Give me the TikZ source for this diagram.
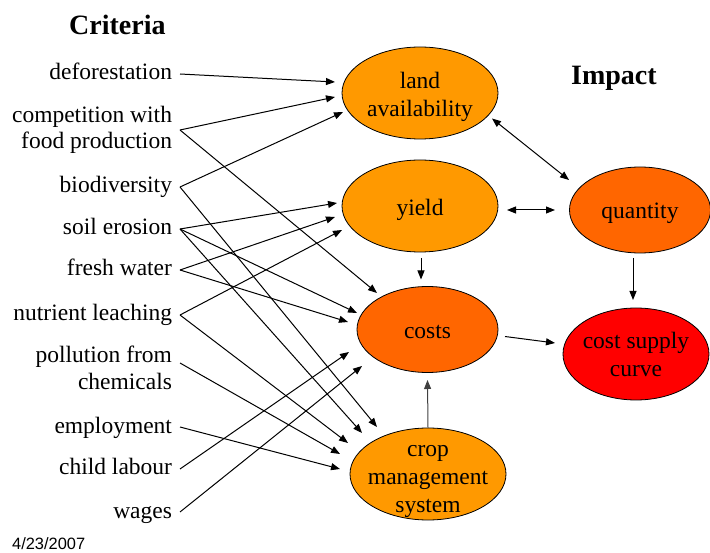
\documentclass[tikz,border=0pt]{standalone}
\usepackage{fontspec}
\setmainfont{Liberation Serif}
\newfontfamily\datefont{Liberation Sans}
\usetikzlibrary{shapes.geometric,arrows.meta}
\definecolor{orA}{HTML}{FF9900}
\definecolor{orB}{HTML}{FF6600}
\definecolor{redC}{HTML}{FF0000}
\begin{document}
\begin{tikzpicture}[x=1pt,y=-1pt,
  crit/.style={anchor=east,align=right,inner sep=0pt,outer xsep=8pt,font=\fontsize{23.5}{26.7}\selectfont},
  one/.style={text height=16pt,text depth=4pt},
  imp/.style={ellipse,draw=black,line width=0.8pt,inner sep=0pt},
  itext/.style={align=center,inner sep=0pt,font=\fontsize{23.5}{28}\selectfont},
  arr/.style={line width=1pt,-{Triangle[length=9pt,width=7pt]}},
  darr/.style={line width=1pt,{Triangle[length=9pt,width=7pt]}-{Triangle[length=9pt,width=7pt]}},
  head/.style={font=\fontsize{28}{30}\selectfont\bfseries,inner sep=0pt,anchor=base west}
]
\useasboundingbox (0,0) rectangle (710,553);

% headers
\node[head] (crith) at (69,35) {Criteria};
\node[head] (imph) at (571,85) {Impact};
\node[anchor=base west,inner sep=0pt,font=\datefont\fontsize{16.4}{18}\selectfont] (date) at (12,549) {4/23/2007};

% impact ellipses
\node[imp,fill=orA,minimum width=156pt,minimum height=92pt,
  label={[itext,yshift=-3.5pt]center:land\\availability}] (land) at (420,93) {};
\node[imp,fill=orA,minimum width=156pt,minimum height=92pt,
  label={[itext,yshift=-4pt]center:yield}] (yield) at (420,206) {};
\node[imp,fill=orB,minimum width=141pt,minimum height=86pt,
  label={[itext,yshift=-3.5pt]center:quantity}] (qty) at (640,210) {};
\node[imp,fill=orB,minimum width=141pt,minimum height=86pt,
  label={[itext,yshift=-3pt]center:costs}] (costs) at (427.5,329.5) {};
\node[imp,fill=redC,minimum width=146pt,minimum height=92pt,
  label={[itext,yshift=-0.5pt]center:cost supply\\curve}] (csc) at (636,354) {};
\node[imp,fill=orA,minimum width=156pt,minimum height=92pt,
  label={[itext,yshift=-7pt]center:crop\\management\\system}] (crop) at (428,474) {};

% criteria labels
\node[crit,one] (defo) at (180,74) {deforestation};
\node[crit] (comp) at (180,130) {competition with\\food production};
\node[crit,one] (bio) at (180,187) {biodiversity};
\node[crit,one] (soil) at (180,229) {soil erosion};
\node[crit,one] (fresh) at (180,270) {fresh water};
\node[crit,one] (nutr) at (180,315) {nutrient leaching};
\node[crit] (poll) at (180,368) {pollution from\\chemicals};
\node[crit,one] (empl) at (180,427) {employment};
\node[crit,one] (child) at (180,469) {child labour};
\node[crit,one] (wage) at (180,512) {wages};

% criteria -> land availability
\draw[arr] (defo.east) -- ([shift={(-85,-11)}]land.center);
\draw[arr] (comp.east) -- ([shift={(-85,4)}]land.center);
\draw[arr] (bio.east) -- ([shift={(-77,19)}]land.center);
% criteria -> yield
\draw[arr] (soil.east) -- ([shift={(-83,-3)}]yield.center);
\draw[arr] (fresh.east) -- ([shift={(-85,11)}]yield.center);
\draw[arr] (nutr.east) -- ([shift={(-78,24)}]yield.center);
% criteria -> costs
\draw[arr] (comp.east) -- ([shift={(-50.5,-36.5)}]costs.center);
\draw[arr] (soil.east) -- ([shift={(-70.5,-16.5)}]costs.center);
\draw[arr] (fresh.east) -- ([shift={(-79.5,-7.5)}]costs.center);
\draw[arr] (child.east) -- ([shift={(-78.5,22.5)}]costs.center);
\draw[arr] (wage.east) -- ([shift={(-65.5,36.5)}]costs.center);
% criteria -> crop management system
\draw[arr] (bio.east) -- ([shift={(-51,-47)}]crop.center);
\draw[arr] (soil.east) -- ([shift={(-66,-41)}]crop.center);
\draw[arr] (nutr.east) -- ([shift={(-80,-31)}]crop.center);
\draw[arr] ([yshift=5pt]poll.east) -- ([shift={(-88,-20)}]crop.center);
\draw[arr] (empl.east) -- ([shift={(-88,-5)}]crop.center);

% impact links
\draw[darr] ([shift={(72,25.5)}]land.center) -- ([shift={(-71,-30)}]qty.center);
\draw[darr] ([shift={(87,4)}]yield.center) -- ([shift={(-85,0)}]qty.center);
\draw[arr] ([shift={(1,52)}]yield.center) -- ([shift={(-6.5,-50)}]costs.center);
\draw[arr] ([shift={(-7,48)}]qty.center) -- ([shift={(-3,-54)}]csc.center);
\draw[arr] ([shift={(77.5,7)}]costs.center) -- ([shift={(-81,-11)}]csc.center);
\draw[arr,draw=black!75] (crop.north) -- ([shift={(0,50.5)}]costs.center);
\end{tikzpicture}
\end{document}
